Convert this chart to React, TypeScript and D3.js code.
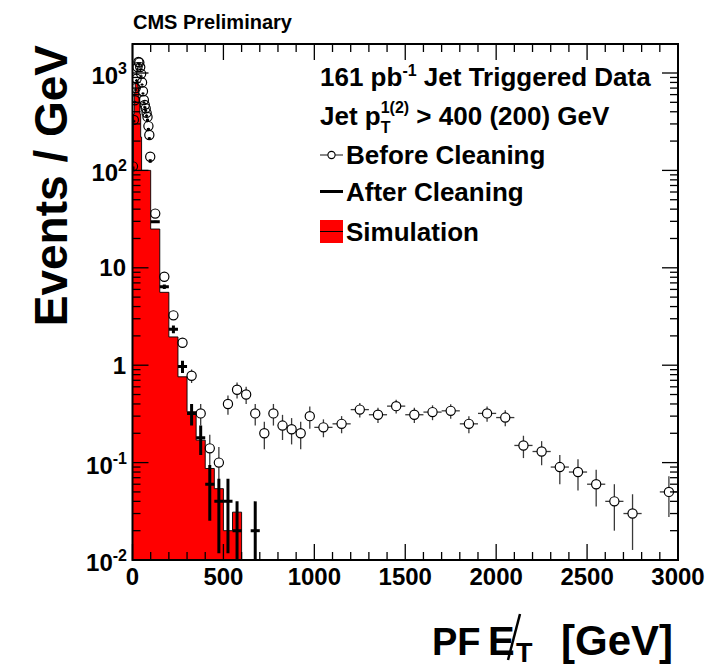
import React from "react";
import * as d3 from "d3";

// ---------------- data (events / GeV) ----------------
const fineEdges = [0, 5, 10, 15, 20, 25, 30, 35, 40, 45, 50, 55, 60, 65, 70, 75, 80, 85, 90, 95, 100];
const edges50 = [100, 150, 200, 250, 300, 350, 400, 450, 500, 550, 600, 650, 700, 750, 800, 850, 900, 950, 1000];
const edges100 = [1000, 1100, 1200, 1300, 1400, 1500, 1600, 1700, 1800, 1900, 2000, 2100, 2200, 2300, 2400, 2500, 2600, 2700, 2800, 2900, 3000];

// Before cleaning (open circles)
const beforeFine = [110, 330, 525, 700, 875, 1150, 1300, 1280, 1150, 980, 800, 650, 528, 470, 434, 390, 354, 285, 231, 138];
const before50 = [36, 8.1, 3.25, 1.7, 0.78, 0.32, 0.14, 0.1, 0.4, 0.56, 0.5, 0.32, 0.2, 0.32, 0.24, 0.22, 0.2, 0.3];
const before100 = [0.23, 0.25, 0.35, 0.31, 0.38, 0.31, 0.33, 0.34, 0.25, 0.32, 0.29, 0.15, 0.13, 0.09, 0.08, 0.06, 0.04, 0.03, 0, 0.05];

// After cleaning (black crosses)
const afterFine = [105, 320, 505, 670, 840, 1100, 1240, 1220, 1090, 930, 760, 615, 500, 445, 410, 365, 330, 265, 212, 125];
const after50 = [29.7, 6.4, 2.34, 0.97, 0.32, 0.18, 0.06, 0.04, 0.04, 0.02, 0, 0.02, 0, 0, 0, 0, 0, 0];

// Simulation (red histogram)
const simEdges = [0, 5, 10, 15, 20, 25, 30, 35, 40, 45, 50, 100, 150, 200, 250, 300, 350, 400, 450, 500, 550, 600];
const simValues = [120, 380, 620, 780, 850, 830, 720, 560, 380, 220, 100, 25, 5.6, 1.95, 0.76, 0.333, 0.17, 0.087, 0.054, 0.02, 0.031];

const xMajorTicks = [0, 500, 1000, 1500, 2000, 2500, 3000];
const xTickLabels = ["0", "500", "1000", "1500", "2000", "2500", "3000"];
const yDecades = [-2, -1, 0, 1, 2, 3];

const legendTitle1 = "161 pb";
const legendTitle2 = "Jet p";
const legendEntries = ["Before Cleaning", "After Cleaning", "Simulation"];

// ---------------- layout ----------------
const W = 725;
const H = 667;
const X0 = 132.5;
const X1 = 678;
const Y0 = 44;
const Y1 = 560;
const FONT = "'Liberation Sans', Arial, Helvetica, sans-serif";
const LF = 26; // legend font size

type Bin = { lo: number; hi: number; v: number };
const toBins = (edges: number[], vals: number[]): Bin[] =>
  vals.map((v, i) => ({ lo: edges[i], hi: edges[i + 1], v }));

export default function App() {
  const x = d3.scaleLinear().domain([0, 3000]).range([X0, X1]);
  const y = d3.scaleLog().domain([0.01, 1985]).range([Y1, Y0]);
  const yc = (v: number) => (v > 0.01 ? y(v) : Y1);

  const beforeBins = [
    ...toBins(fineEdges, beforeFine),
    ...toBins(edges50, before50),
    ...toBins(edges100, before100),
  ].filter((b) => b.v > 0);
  const afterBins = [...toBins(fineEdges, afterFine), ...toBins(edges50, after50)].filter((b) => b.v > 0);
  const simBins = toBins(simEdges, simValues);

  let simPath = `M${x(simEdges[0])},${Y1}`;
  simBins.forEach((b) => {
    simPath += `L${x(b.lo)},${yc(b.v)}L${x(b.hi)},${yc(b.v)}`;
  });
  simPath += `L${x(simEdges[simEdges.length - 1])},${Y1}Z`;

  const R = 4.6;

  const xMinor = d3.range(0, 3001, 100).filter((t) => t % 500 !== 0);
  const yMinor: number[] = [];
  for (let e = -2; e <= 3; e++) {
    for (let m = 2; m <= 9; m++) {
      const v = m * Math.pow(10, e);
      if (v < 1985) yMinor.push(v);
    }
  }

  return (
    <svg
      width={W}
      height={H}
      viewBox={`0 0 ${W} ${H}`}
      style={{ position: "absolute", left: 0, top: 0, background: "#fff" }}
      fontFamily={FONT}
      fontWeight="bold"
    >
      <rect x={0} y={0} width={W} height={H} fill="#fff" />
      <defs>
        <clipPath id="plotClip">
          <rect x={X0} y={Y0} width={X1 - X0} height={Y1 - Y0} />
        </clipPath>
      </defs>

      <g clipPath="url(#plotClip)">
        <path d={simPath} fill="#ff0000" stroke="#000" strokeWidth={0.9} />

        {beforeBins.map((b, i) => {
          const w = b.hi - b.lo;
          const err = Math.sqrt(b.v * w) / w;
          const cx = x((b.lo + b.hi) / 2);
          const cy = y(b.v);
          const yt = y(b.v + err);
          const yb = yc(b.v - err);
          const xl = x(b.lo);
          const xr = x(b.hi);
          return (
            <g key={"b" + i} stroke="#3a3a3a" strokeWidth={1.3}>
              {yt < cy - R && <line x1={cx} x2={cx} y1={yt} y2={cy - R} />}
              {yb > cy + R && <line x1={cx} x2={cx} y1={cy + R} y2={yb} />}
              {cx - xl > R && <line x1={xl} x2={cx - R} y1={cy} y2={cy} />}
              {xr - cx > R && <line x1={cx + R} x2={xr} y1={cy} y2={cy} />}
              <circle cx={cx} cy={cy} r={R} fill="none" stroke="#000" strokeWidth={1.2} />
            </g>
          );
        })}

        {afterBins.map((b, i) => {
          const w = b.hi - b.lo;
          const err = Math.sqrt(b.v * w) / w;
          const cx = x((b.lo + b.hi) / 2);
          const cy = y(b.v);
          return (
            <g key={"a" + i} stroke="#000" strokeWidth={3}>
              <line x1={cx} x2={cx} y1={y(b.v + err)} y2={yc(b.v - err)} />
              <line x1={x(b.lo)} x2={x(b.hi)} y1={cy} y2={cy} />
            </g>
          );
        })}
      </g>

      <rect x={X0} y={Y0} width={X1 - X0} height={Y1 - Y0} fill="none" stroke="#000" strokeWidth={2} />

      <g stroke="#000" strokeWidth={1.3}>
        {xMajorTicks.map((t) => (
          <g key={"xm" + t}>
            <line x1={x(t)} x2={x(t)} y1={Y1} y2={Y1 - 16} />
            <line x1={x(t)} x2={x(t)} y1={Y0} y2={Y0 + 16} />
          </g>
        ))}
        {xMinor.map((t) => (
          <g key={"xn" + t}>
            <line x1={x(t)} x2={x(t)} y1={Y1} y2={Y1 - 8} />
            <line x1={x(t)} x2={x(t)} y1={Y0} y2={Y0 + 8} />
          </g>
        ))}
        {yDecades.map((e) => {
          const yy = y(Math.pow(10, e));
          return (
            <g key={"ym" + e}>
              <line x1={X0} x2={X0 + 16} y1={yy} y2={yy} />
              <line x1={X1} x2={X1 - 16} y1={yy} y2={yy} />
            </g>
          );
        })}
        {yMinor.map((v) => (
          <g key={"yn" + v}>
            <line x1={X0} x2={X0 + 8} y1={y(v)} y2={y(v)} />
            <line x1={X1} x2={X1 - 8} y1={y(v)} y2={y(v)} />
          </g>
        ))}
      </g>

      {xMajorTicks.map((t, i) => (
        <text key={"xl" + t} x={x(t)} y={585} fontSize={24} textAnchor="middle" fill="#000">
          {xTickLabels[i]}
        </text>
      ))}

      {yDecades.map((e) => {
        const yy = y(Math.pow(10, e));
        if (e === 0 || e === 1)
          return (
            <text key={"yl" + e} x={126} y={yy + 8.5} fontSize={24} textAnchor="end">
              {e === 0 ? "1" : "10"}
            </text>
          );
        return (
          <text key={"yl" + e} x={127} y={yy + 11} fontSize={24} textAnchor="end">
            10
            <tspan fontSize={16} dy={-10}>
              {e < 0 ? "-" + Math.abs(e) : String(e)}
            </tspan>
          </text>
        );
      })}

      <text x={133} y={29} fontSize={20}>
        CMS Preliminary
      </text>

      <text transform={`translate(67,45) rotate(-90)`} fontSize={46} textAnchor="end">
        Events / GeV
      </text>

      {/* x title */}
      <text x={432} y={655} fontSize={38}>PF</text>
      <text x={488} y={655} fontSize={40}>E</text>
      <line x1={508} y1={660} x2={520} y2={614} stroke="#000" strokeWidth={2.5} />
      <text x={516} y={662} fontSize={27}>T</text>
      <text x={561} y={655} fontSize={42}>[GeV]</text>

      {/* legend */}
      <text x={320} y={85.5} fontSize={LF}>
        {legendTitle1}
        <tspan fontSize={16} dy={-10}>-1</tspan>
        <tspan dy={10}> Jet Triggered Data</tspan>
      </text>
      <text x={320} y={125} fontSize={LF}>
        {legendTitle2}
        <tspan fontSize={16} dy={-12}>1(2)</tspan>
        <tspan fontSize={16} dx={-1.778 * 16} dy={20}>T</tspan>
        <tspan dx={1.778 * 16 - 0.611 * 16} dy={-8}> &gt; 400 (200) GeV</tspan>
      </text>

      <g stroke="#3a3a3a" strokeWidth={1.2}>
        <line x1={320} x2={331.5 - 3.6} y1={155} y2={155} />
        <line x1={331.5 + 3.6} x2={343} y1={155} y2={155} />
      </g>
      <circle cx={331.5} cy={155} r={3.6} fill="none" stroke="#000" strokeWidth={1.1} />
      <text x={346} y={164} fontSize={LF}>{legendEntries[0]}</text>

      <line x1={320} x2={343} y1={191.5} y2={191.5} stroke="#000" strokeWidth={3} />
      <text x={346} y={200.5} fontSize={LF}>{legendEntries[1]}</text>

      <rect x={320} y={220} width={23} height={23} fill="#ff0000" />
      <line x1={320} x2={343} y1={231.5} y2={231.5} stroke="#000" strokeWidth={1} />
      <text x={346} y={240.5} fontSize={LF}>{legendEntries[2]}</text>
    </svg>
  );
}
